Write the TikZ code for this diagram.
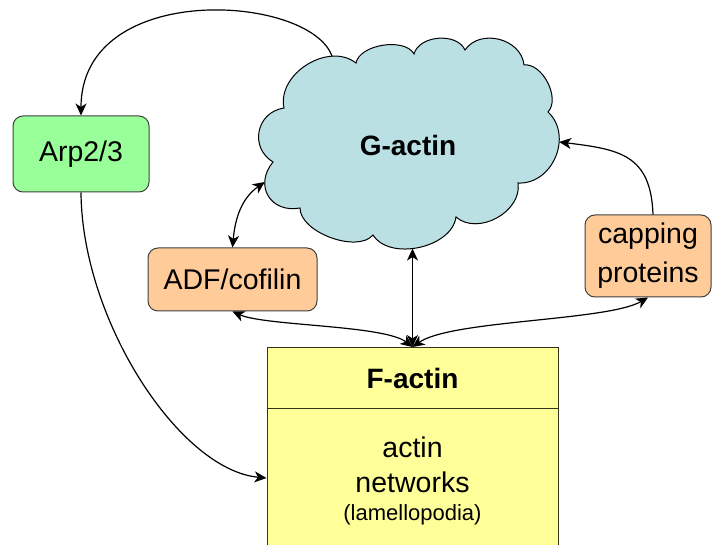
\documentclass[tikz,border=0pt]{standalone}
\usepackage{fontspec}
\setmainfont{Liberation Sans}
\usetikzlibrary{arrows.meta,intersections}
\definecolor{arpc}{RGB}{153,255,153}
\definecolor{peachc}{RGB}{255,204,153}
\definecolor{yelc}{RGB}{255,255,153}
\definecolor{cloudc}{RGB}{186,224,227}
\definecolor{edgec}{RGB}{64,64,64}
\tikzset{
  rbox/.style={draw=edgec, line width=1pt, rounded corners=10pt, inner sep=0pt, align=center},
  fbox/.style={draw=black!80!yelc, line width=1pt, fill=yelc, inner sep=0pt},
  txt/.style={font=\fontsize{28.5}{37}\selectfont},
  btxt/.style={font=\fontsize{28}{34}\selectfont\bfseries},
  stxt/.style={font=\fontsize{22}{26}\selectfont},
  arr/.style={line width=1.2pt, -{Stealth[length=12pt,width=11pt,inset=3.5pt]}},
  darr/.style={line width=1.2pt, {Stealth[length=12pt,width=11pt,inset=3.5pt]}-{Stealth[length=12pt,width=11pt,inset=3.5pt]}},
  puff/.style={bend left=70, looseness=#1}
}
\begin{document}
\begin{tikzpicture}[x=1pt,y=1pt]
\useasboundingbox (0,0) rectangle (712,-545);
\clip (0,0) rectangle (712,-545);
\fill[white] (0,0) rectangle (712,-545);

% cloud cusps
\coordinate (P1) at (284,-108);
\coordinate (P2) at (356,-63);
\coordinate (P3) at (414,-54);
\coordinate (P4) at (465,-50);
\coordinate (P5) at (524,-65);
\coordinate (P6) at (548,-112);
\coordinate (P8) at (518,-183);
\coordinate (P9) at (456,-217);
\coordinate (P10) at (373,-235);
\coordinate (P11) at (300,-208);
\coordinate (P12) at (273,-162);
\path[name path=cloud, draw=black, line width=1pt, fill=cloudc]
  (P1) to[puff=1.05] (P2) to[puff=0.83] (P3) to[puff=0.98] (P4)
  to[puff=1.12] (P5) to[puff=0.9] (P6) to[puff=1.15] (P8)
  to[puff=1.05] (P9) to[puff=0.94] (P10) to[puff=0.8] (P11)
  to[puff=1.45] (P12) to[puff=1.3] (P1) -- cycle;
\node[btxt] (gtext) at (408,-145) {G-actin};

% points on the cloud outline
\path[name path=lt] (332,-20) -- (332,-90);
\path[name path=lb] (412.5,-200) -- (412.5,-290);
\path[name path=ll] (235,-182) -- (300,-182);
\path[name path=lr] (520,-142) -- (600,-142);
\path[name intersections={of=cloud and lt, by={gtop}}];
\path[name intersections={of=cloud and lb, by={gbot}}];
\path[name intersections={of=cloud and ll, by={gleft}}];
\path[name intersections={of=cloud and lr, by={gright}}];

% boxes
\node[rbox, txt, fill=arpc, minimum width=136pt, minimum height=76pt] (arp) at (81,-154) {Arp2/3};
\node[rbox, txt, fill=peachc, minimum width=169pt, minimum height=63pt] (adf) at (232.5,-279.5) {ADF/cofilin};
\node[rbox, txt, fill=peachc, minimum width=126pt, minimum height=82pt] (cap) at (648,-256) {capping\\[2pt]proteins};
\node[fbox, minimum width=291pt, minimum height=215pt, anchor=north] (F) at (412.5,-347) {};
\coordinate (dv) at (0,-408);
\draw[black!80!yelc, line width=1pt] (F.west |- dv) -- (F.east |- dv);
\node[btxt, anchor=base] (ftitle) at (412.5,-388) {F-actin};
\node[txt, anchor=base] (fl1) at (412.5,-457) {actin};
\node[txt, anchor=base] (fl2) at (412.5,-492) {networks};
\node[stxt, anchor=base] (fl3) at (412.5,-520) {(lamellopodia)};

% connectors
\coordinate (fin) at (0,-478);
\draw[arr] (gtop) .. controls +(-22,62) and +(0,136) .. (arp.north);
\draw[arr] (arp.south) .. controls +(1,-128) and +(-87,8) .. (F.west |- fin);
\draw[darr] (adf.north) to[out=85,in=215] (gleft);
\draw[darr] (F.north) -- (F.north |- gbot);
\draw[darr] (F.north) to[out=142,in=-24,looseness=0.5] (adf.south);
\draw[darr] (F.north) to[out=35,in=210,looseness=0.5] (cap.south);
\draw[arr] ([xshift=5pt]cap.north) to[out=92,in=-7,looseness=1.3] (gright);
\end{tikzpicture}
\end{document}
